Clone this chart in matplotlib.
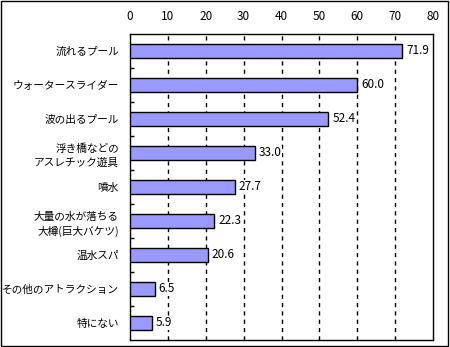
import matplotlib.pyplot as plt
from matplotlib.patches import Rectangle

plt.rcParams['font.family'] = ['Noto Sans CJK JP', 'DejaVu Sans']

# データ
categories = ['流れるプール', 'ウォータースライダー', '波の出るプール',
              '浮き橋などの\nアスレチック遊具', '噴水',
              '大量の水が落ちる\n大樽(巨大バケツ)', '温水スパ',
              'その他のアトラクション', '特にない']
values = [71.9, 60.0, 52.4, 33.0, 27.7, 22.3, 20.6, 6.5, 5.9]
xticks = [0, 10, 20, 30, 40, 50, 60, 70, 80]

fig = plt.figure(figsize=(4.5, 3.47), dpi=100)
ax = fig.add_axes([130 / 450, 1 - 340 / 347, 303 / 450, 306 / 347])

y = list(range(len(categories)))
ax.barh(y, values, height=0.42, color='#9999ff', edgecolor='black', linewidth=1, zorder=3)
for yi, v in zip(y, values):
    ax.text(v + 1.0, yi, f'{v:.1f}', va='center', ha='left', fontsize=8.5, zorder=4,
            bbox=dict(facecolor='white', edgecolor='none', pad=0.5))

ax.set_xlim(0, 80)
ax.set_ylim(len(categories) - 0.5, -0.5)
ax.set_xticks(xticks)
ax.xaxis.tick_top()
ax.tick_params(axis='x', length=0, pad=8, labelsize=8.5)
ax.set_yticks(y)
ax.set_yticklabels(categories, fontsize=7.7, ha='right', multialignment='right',
                   linespacing=1.45)
ax.tick_params(axis='y', length=0, pad=8)
# カテゴリ境界の小さな目盛り
ax.set_yticks([i + 0.5 for i in range(len(categories) - 1)], minor=True)
ax.tick_params(axis='y', which='minor', direction='in', length=3, width=1)

for xv in xticks[1:-1]:
    ax.axvline(xv, color='black', linestyle=(0, (3, 3)), linewidth=1, zorder=1)

for s in ax.spines.values():
    s.set_linewidth(1)

# 外枠
fig.patches.append(Rectangle((0.002, 0.004), 0.993, 0.993, transform=fig.transFigure,
                             fill=False, edgecolor='black', linewidth=1))

fig.savefig('out.png', dpi=100)
